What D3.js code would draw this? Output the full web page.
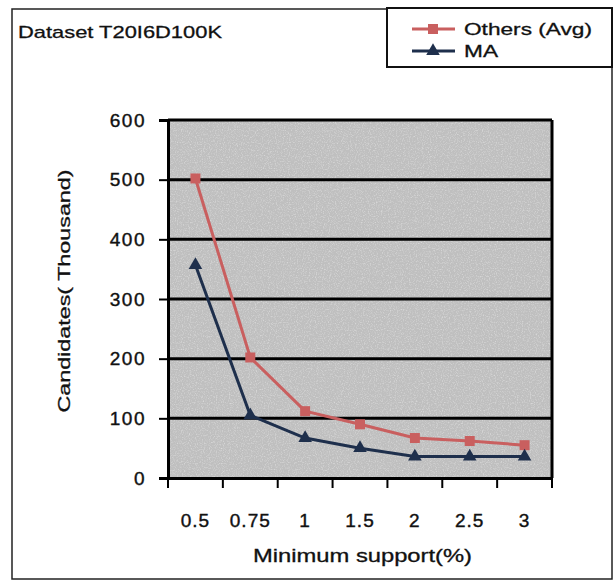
<!DOCTYPE html>
<html>
<head>
<meta charset="utf-8">
<script src="https://cdn.jsdelivr.net/npm/d3@7/dist/d3.min.js"></script>
<style>
  html, body { margin: 0; padding: 0; background: #fff; }
  svg text { font-family: "Liberation Sans", Arial, sans-serif; fill: #111; }
</style>
</head>
<body>
<svg id="chart" width="614" height="581"></svg>
<script>
// Minimum support levels (%) on the x axis
const supports = ["0.5", "0.75", "1", "1.5", "2", "2.5", "3"];
// Candidate itemsets generated, in thousands
const othersAvg = [502, 202, 112, 90, 67, 62, 55];
const maValues  = [357, 105, 67, 50, 36, 36, 36];
const yTicks = [0, 100, 200, 300, 400, 500, 600];

const seriesList = [
  { name: "Others (Avg)", values: othersAvg, color: "#c95f5f", marker: "square" },
  { name: "MA",           values: maValues,  color: "#1e2f4c", marker: "triangle" }
];

const svg = d3.select("#chart");
const plot = { left: 168, right: 552, top: 120, bottom: 478 };
const labelFont = "Liberation Sans, Arial, sans-serif";

// Outer frame
svg.append("rect")
  .attr("x", 12).attr("y", 9).attr("width", 600).attr("height", 570)
  .attr("fill", "none").attr("stroke", "#222").attr("stroke-width", 1.5);

// Title
svg.append("text")
  .attr("x", 18).attr("y", 38)
  .attr("font-size", 17)
  .attr("stroke", "#111").attr("stroke-width", 0.3)
  .attr("textLength", 204).attr("lengthAdjust", "spacingAndGlyphs")
  .text("Dataset T20I6D100K");

const x = d3.scaleBand().domain(supports).range([plot.left, plot.right]);
const y = d3.scaleLinear().domain([0, 600]).range([plot.bottom, plot.top]);

// Grainy grey plot background
const defs = svg.append("defs");
const grain = defs.append("filter").attr("id", "grain")
  .attr("x", 0).attr("y", 0).attr("width", 1).attr("height", 1);
grain.append("feTurbulence").attr("type", "fractalNoise")
  .attr("baseFrequency", 0.85).attr("numOctaves", 2).attr("seed", 3);
grain.append("feColorMatrix").attr("type", "matrix")
  .attr("values", "0 0 0 0 1  0 0 0 0 1  0 0 0 0 1  1.6 0 0 0 -0.75");
grain.append("feComposite").attr("in2", "SourceGraphic").attr("operator", "in");

svg.append("rect")
  .attr("x", plot.left).attr("y", plot.top)
  .attr("width", plot.right - plot.left).attr("height", plot.bottom - plot.top)
  .attr("fill", "#bfbfbf");
svg.append("rect")
  .attr("x", plot.left).attr("y", plot.top)
  .attr("width", plot.right - plot.left).attr("height", plot.bottom - plot.top)
  .attr("fill", "#000").attr("filter", "url(#grain)").attr("opacity", 0.6);

// Horizontal gridlines
svg.append("g")
  .selectAll("line")
  .data(yTicks.filter(d => d > 0))
  .join("line")
  .attr("x1", plot.left).attr("x2", plot.right)
  .attr("y1", d => y(d)).attr("y2", d => y(d))
  .attr("stroke", "#000").attr("stroke-width", 3);

// Right border
svg.append("line")
  .attr("x1", plot.right).attr("x2", plot.right)
  .attr("y1", plot.top).attr("y2", plot.bottom)
  .attr("stroke", "#000").attr("stroke-width", 3);

// Y axis
const yAxis = svg.append("g")
  .attr("transform", `translate(${plot.left},0)`)
  .call(d3.axisLeft(y).tickValues(yTicks).tickSize(9).tickPadding(13).tickFormat(d3.format("d")));
yAxis.select(".domain").attr("stroke", "#000").attr("stroke-width", 3);
yAxis.selectAll(".tick line").attr("stroke", "#000").attr("stroke-width", 2);
yAxis.selectAll(".tick text")
  .attr("font-size", 19).attr("letter-spacing", 1.5)
  .attr("stroke", "#111").attr("stroke-width", 0.4)
  .attr("font-family", labelFont).attr("fill", "#111");

// X axis: labels centred in each band, ticks on band boundaries
const xAxis = svg.append("g")
  .attr("transform", `translate(0,${plot.bottom})`)
  .call(d3.axisBottom(x).tickSize(0).tickPadding(36));
xAxis.select(".domain").attr("stroke", "#000").attr("stroke-width", 3);
xAxis.selectAll(".tick text")
  .attr("font-size", 19).attr("letter-spacing", 1)
  .attr("stroke", "#111").attr("stroke-width", 0.4)
  .attr("font-family", labelFont).attr("fill", "#111");
const boundaries = supports.map(s => x(s)).concat([x(supports[supports.length - 1]) + x.bandwidth()]);
xAxis.selectAll(".bound")
  .data(boundaries)
  .join("line")
  .attr("class", "bound")
  .attr("x1", d => d).attr("x2", d => d)
  .attr("y1", 0).attr("y2", 10)
  .attr("stroke", "#000").attr("stroke-width", 2);

// Axis titles
svg.append("text")
  .attr("x", 253).attr("y", 562)
  .attr("font-size", 18)
  .attr("stroke", "#111").attr("stroke-width", 0.3)
  .attr("textLength", 219).attr("lengthAdjust", "spacingAndGlyphs")
  .text("Minimum support(%)");

svg.append("text")
  .attr("transform", "translate(70,291) rotate(-90)")
  .attr("text-anchor", "middle")
  .attr("font-size", 17)
  .attr("stroke", "#111").attr("stroke-width", 0.3)
  .attr("textLength", 243).attr("lengthAdjust", "spacingAndGlyphs")
  .text("Candidates( Thousand)");

// Series lines and markers
const line = d3.line()
  .x((d, i) => x(supports[i]) + x.bandwidth() / 2)
  .y(d => y(d));

function drawMarker(g, kind, color, cx, cy) {
  if (kind === "square") {
    g.append("rect")
      .attr("x", cx - 5).attr("y", cy - 5).attr("width", 10).attr("height", 10)
      .attr("fill", color);
  } else {
    g.append("path")
      .attr("d", d3.symbol().type(d3.symbolTriangle).size(80)())
      .attr("transform", `translate(${cx},${cy})`)
      .attr("fill", color);
  }
}

seriesList.forEach(s => {
  svg.append("path")
    .datum(s.values)
    .attr("d", line)
    .attr("fill", "none")
    .attr("stroke", s.color)
    .attr("stroke-width", 3);
  const g = svg.append("g");
  s.values.forEach((v, i) => {
    drawMarker(g, s.marker, s.color, x(supports[i]) + x.bandwidth() / 2, y(v));
  });
});

// Legend
const legend = svg.append("g");
legend.append("rect")
  .attr("x", 387).attr("y", 8).attr("width", 225).attr("height", 59)
  .attr("fill", "#fff").attr("stroke", "#111").attr("stroke-width", 2);
const legendRows = [
  { s: seriesList[0], y: 29, w: 128 },
  { s: seriesList[1], y: 51, w: 34 }
];
legendRows.forEach(r => {
  legend.append("line")
    .attr("x1", 412).attr("x2", 455)
    .attr("y1", r.y).attr("y2", r.y)
    .attr("stroke", r.s.color).attr("stroke-width", 3);
  drawMarker(legend, r.s.marker, r.s.color, 433, r.y);
  legend.append("text")
    .attr("x", 464).attr("y", r.y + 6)
    .attr("font-size", 17)
    .attr("stroke", "#111").attr("stroke-width", 0.3)
    .attr("textLength", r.w).attr("lengthAdjust", "spacingAndGlyphs")
    .text(r.s.name);
});
</script>
</body>
</html>
